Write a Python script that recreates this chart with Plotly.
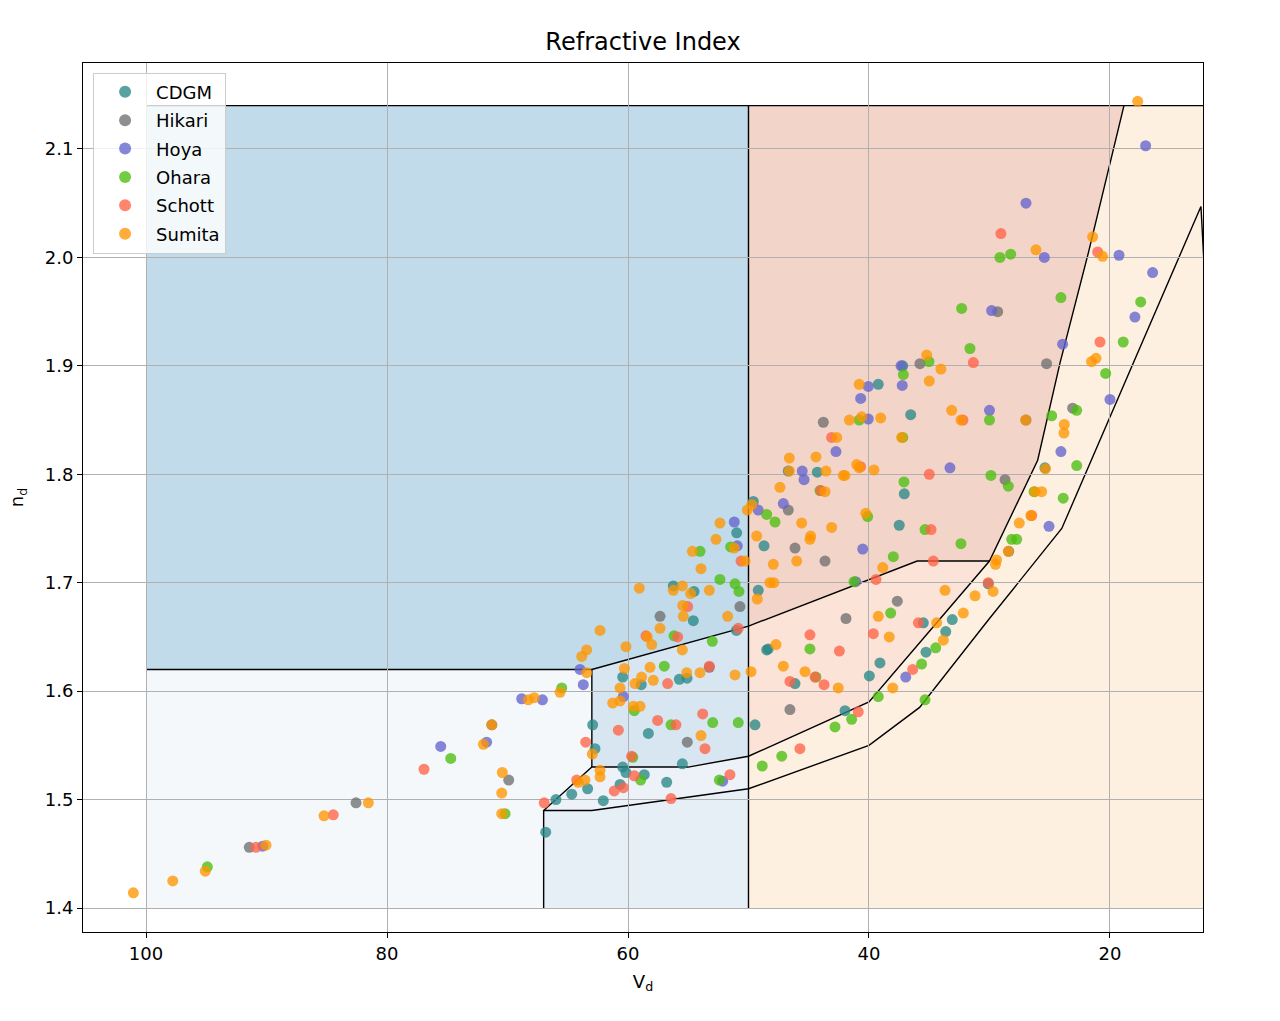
import plotly.graph_objects as go

# ---------------- data (Abbe diagram: vd, nd) ----------------
cdgm_vd = [48.49, 60.44, 58.9, 55.74, 55.1, 62.93, 58.31, 49.46, 62.74, 55.49, 60.44, 60.17, 58.65, 56.79,
           63.35, 64.67, 65.98, 62.05, 60.66, 66.83, 56.24, 54.52, 54.58, 51.0, 50.98, 49.19, 48.71, 33.09,
           35.49, 33.63, 35.27, 39.09, 39.97, 48.36, 46.14, 41.99, 37.2, 39.23, 36.54, 46.7, 44.29, 37.07,
           49.6, 37.49, 25.4, 30.1]
cdgm_nd = [1.638, 1.613, 1.606, 1.611, 1.612, 1.569, 1.561, 1.569, 1.547, 1.533, 1.530, 1.525, 1.523, 1.516,
           1.510, 1.505, 1.500, 1.499, 1.514, 1.470, 1.697, 1.692, 1.665, 1.656, 1.746, 1.693, 1.734, 1.666,
           1.663, 1.655, 1.636, 1.626, 1.614, 1.639, 1.607, 1.582, 1.900, 1.883, 1.855, 1.803, 1.802, 1.782,
           1.775, 1.753, 1.806, 1.699]

hikari_vd = [91.43, 82.57, 71.3, 69.9, 55.08, 57.34, 50.71, 46.14, 43.65, 37.65, 41.91, 46.56, 35.77, 43.79,
             46.7, 29.32, 25.26, 26.97, 23.1, 28.71, 28.4, 53.25]
hikari_nd = [1.456, 1.497, 1.569, 1.518, 1.553, 1.669, 1.678, 1.732, 1.720, 1.683, 1.667, 1.583, 1.902, 1.848,
             1.767, 1.950, 1.902, 1.850, 1.861, 1.795, 1.729, 1.622]

hoya_vd = [90.32, 75.54, 71.73, 68.82, 67.1, 63.98, 63.71, 60.39, 52.14, 51.18, 50.93, 40.52, 41.1, 36.95,
           37.34, 37.24, 40.06, 40.69, 40.06, 42.74, 45.54, 45.39, 33.28, 47.11, 49.19, 17.04, 26.97, 25.45,
           19.25, 16.46, 17.93, 29.82, 23.93, 20.0, 30.0, 24.07, 25.06]
hoya_nd = [1.457, 1.549, 1.553, 1.593, 1.592, 1.620, 1.606, 1.595, 1.517, 1.756, 1.734, 1.731, 1.701, 1.613,
           1.900, 1.882, 1.881, 1.870, 1.851, 1.821, 1.803, 1.795, 1.806, 1.773, 1.767, 2.103, 2.050, 2.000,
           2.002, 1.986, 1.945, 1.951, 1.920, 1.869, 1.859, 1.821, 1.752]

ohara_vd = [94.91, 74.71, 70.2, 65.5, 53.0, 56.99, 59.48, 56.43, 52.97, 50.85, 59.6, 58.95, 52.42, 48.86,
            56.18, 52.37, 51.12, 50.79, 54.02, 51.48, 32.37, 37.98, 41.24, 34.46, 35.63, 39.23, 35.35, 38.2,
            44.9, 44.4, 41.44, 42.82, 47.24, 35.02, 37.15, 40.81, 37.2, 37.1, 44.07, 48.49, 47.8, 40.11,
            35.35, 29.13, 28.24, 24.07, 17.45, 32.31, 31.62, 18.9, 20.36, 30.0, 24.84, 22.76, 22.76, 29.88,
            28.44, 26.3, 23.88, 28.16, 27.74]
ohara_nd = [1.438, 1.538, 1.487, 1.603, 1.646, 1.623, 1.582, 1.569, 1.571, 1.571, 1.539, 1.518, 1.518, 1.531,
            1.651, 1.703, 1.699, 1.692, 1.729, 1.733, 1.736, 1.724, 1.701, 1.640, 1.625, 1.595, 1.592, 1.672,
            1.639, 1.613, 1.574, 1.567, 1.540, 1.904, 1.892, 1.850, 1.834, 1.793, 1.785, 1.763, 1.756, 1.761,
            1.749, 2.000, 2.003, 1.963, 1.959, 1.953, 1.916, 1.922, 1.893, 1.850, 1.854, 1.859, 1.808, 1.799,
            1.789, 1.784, 1.778, 1.740, 1.740]

schott_vd = [90.87, 84.46, 76.93, 66.95, 64.26, 63.51, 60.8, 57.54, 56.02, 53.8, 53.61, 59.7, 59.48, 51.54,
             61.14, 60.39, 56.43, 56.71, 58.51, 55.88, 55.05, 50.85, 50.62, 34.66, 39.42, 35.9, 36.37, 44.9,
             42.46, 46.56, 44.48, 43.73, 40.89, 45.73, 43.1, 40.7, 35.0, 44.0, 34.85, 29.05, 21.02, 31.34,
             20.83, 32.2, 26.5, 30.1, 53.25, 39.64]
schott_nd = [1.456, 1.486, 1.528, 1.497, 1.518, 1.553, 1.564, 1.573, 1.569, 1.579, 1.547, 1.540, 1.522, 1.523,
             1.508, 1.511, 1.501, 1.607, 1.651, 1.650, 1.678, 1.658, 1.720, 1.720, 1.703, 1.663, 1.620, 1.652,
             1.637, 1.609, 1.613, 1.606, 1.581, 1.547, 1.834, 1.807, 1.800, 1.785, 1.749, 2.022, 2.005, 1.903,
             1.922, 1.850, 1.762, 1.700, 1.623, 1.653]

sumita_vd = [101.05, 97.78, 95.08, 90.04, 85.23, 81.55, 71.31, 72.0, 70.43, 70.48, 70.48, 68.27, 67.78, 65.64,
             63.43, 63.84, 63.43, 60.17, 58.03, 55.49, 60.3, 58.17, 55.13, 54.02, 51.12, 49.79, 59.42, 58.87,
             57.9, 60.66, 61.27, 60.66, 59.56, 59.0, 53.94, 62.96, 62.32, 62.32, 64.12, 63.57, 62.32, 59.06,
             57.34, 58.4, 56.24, 55.49, 54.8, 55.46, 55.41, 53.25, 51.73, 54.66, 53.94, 52.7, 52.37, 51.18,
             50.29, 49.73, 50.1, 49.32, 49.27, 44.9, 47.94, 46.0, 38.86, 48.22, 47.9, 33.69, 31.2, 32.17,
             34.38, 33.83, 38.03, 39.23, 38.32, 47.72, 47.11, 45.31, 42.55, 35.21, 34.03, 35.0, 40.81, 41.63,
             40.61, 39.03, 33.14, 42.68, 37.29, 46.61, 44.4, 46.61, 43.57, 42.13, 42.0, 41.02, 40.81, 39.59,
             47.39, 43.65, 45.59, 43.1, 44.84, 40.27, 17.7, 26.14, 21.44, 20.61, 21.53, 21.16, 32.37, 27.0,
             23.79, 23.82, 25.35, 26.22, 25.67, 26.56, 27.53, 28.44, 29.41, 29.5, 29.7]
sumita_nd = [1.414, 1.425, 1.434, 1.458, 1.485, 1.497, 1.569, 1.551, 1.525, 1.506, 1.487, 1.592, 1.594, 1.599,
             1.617, 1.632, 1.638, 1.641, 1.643, 1.638, 1.621, 1.622, 1.617, 1.617, 1.615, 1.618, 1.607, 1.613,
             1.610, 1.603, 1.589, 1.591, 1.586, 1.586, 1.559, 1.542, 1.527, 1.521, 1.516, 1.518, 1.656, 1.695,
             1.658, 1.650, 1.693, 1.697, 1.690, 1.679, 1.669, 1.693, 1.669, 1.729, 1.713, 1.740, 1.755, 1.732,
             1.720, 1.772, 1.767, 1.743, 1.685, 1.740, 1.717, 1.720, 1.714, 1.700, 1.700, 1.693, 1.688, 1.672,
             1.663, 1.647, 1.603, 1.669, 1.650, 1.643, 1.623, 1.618, 1.603, 1.910, 1.897, 1.886, 1.883, 1.850,
             1.853, 1.852, 1.859, 1.834, 1.834, 1.815, 1.816, 1.803, 1.803, 1.799, 1.799, 1.809, 1.806, 1.804,
             1.788, 1.784, 1.755, 1.751, 1.743, 1.764, 2.144, 2.007, 2.019, 2.001, 1.904, 1.907, 1.850, 1.850,
             1.846, 1.838, 1.805, 1.784, 1.784, 1.762, 1.755, 1.729, 1.721, 1.717, 1.692]

manufacturers = ["CDGM", "Hikari", "Hoya", "Ohara", "Schott", "Sumita"]
series_vd = [cdgm_vd, hikari_vd, hoya_vd, ohara_vd, schott_vd, sumita_vd]
series_nd = [cdgm_nd, hikari_nd, hoya_nd, ohara_nd, schott_nd, sumita_nd]
colors = ["#2a8888", "#707070", "#6464cd", "#4cbe10", "#ff6347", "#ff9600"]

# glass-map regions (vd, nd vertices)
region_cream = [(50, 1.4), (50, 2.14), (5, 2.14), (5, 1.4)]
region_flint = [(50, 2.14), (18.84, 2.14), (21.8, 2.004), (24.15, 1.9025), (26, 1.813), (30, 1.72), (36, 1.72), (50, 1.66)]
region_flint_light = [(50, 1.66), (36, 1.72), (30, 1.72), (40, 1.59), (50, 1.54)]
region_blue = [(100, 1.62), (100, 2.14), (50, 2.14), (50, 1.66), (63, 1.62)]
region_b = [(63, 1.62), (50, 1.66), (50, 1.54), (55, 1.53), (63, 1.53)]
region_c = [(67, 1.49), (63, 1.53), (55, 1.53), (50, 1.54), (50, 1.51), (63, 1.49)]
region_d = [(67, 1.4), (67, 1.49), (63, 1.49), (50, 1.51), (50, 1.4)]
region_e = [(100, 1.4), (100, 1.62), (63, 1.62), (63, 1.53), (67, 1.49), (67, 1.4)]
regions = [region_cream, region_flint, region_flint_light, region_blue, region_b, region_c, region_d, region_e]
region_colors = ["#fdf0e1", "#f3d4c8", "#fbe3d7", "#c1dbea", "#d8e6f1", "#ecf2f8", "#e6eef6", "#f5f8fb"]

outline_top = [(100, 2.14), (5, 2.14)]
outline_x50 = [(50, 1.4), (50, 2.14)]
outline_crown = [(100, 1.62), (63, 1.62), (50, 1.66), (36, 1.72), (30, 1.72)]
outline_flint = [(18.84, 2.14), (21.8, 2.004), (24.15, 1.9025), (26, 1.813), (30, 1.72), (40, 1.59), (50, 1.54),
                 (55, 1.53), (63, 1.53), (67, 1.49), (67, 1.4)]
outline_lower = [(67, 1.49), (63, 1.49), (50, 1.51), (40, 1.55), (35.8, 1.585), (30, 1.667), (24, 1.75),
                 (12.45, 2.047), (11.5, 1.85)]
outline_v63 = [(63, 1.62), (63, 1.53)]
outlines = [outline_top, outline_x50, outline_crown, outline_flint, outline_lower, outline_v63]

x_ticks = [100, 80, 60, 40, 20]
y_ticks = [1.4, 1.5, 1.6, 1.7, 1.8, 1.9, 2.0, 2.1]


def to_path(pts, close):
    s = "M " + " L ".join(f"{x},{y}" for x, y in pts)
    return s + (" Z" if close else "")


fig = go.Figure()

shapes = []
for pts, col in zip(regions, region_colors):
    shapes.append(dict(type="path", path=to_path(pts, True), xref="x", yref="y",
                       fillcolor=col, line=dict(width=0), layer="below"))
for pts in outlines:
    shapes.append(dict(type="path", path=to_path(pts, False), xref="x", yref="y",
                       fillcolor="rgba(0,0,0,0)", line=dict(color="black", width=1.4), layer="below"))

for name, vd, nd, col in zip(manufacturers, series_vd, series_nd, colors):
    fig.add_trace(go.Scatter(x=vd, y=nd, mode="markers", name=name, legendgroup=name,
                             marker=dict(color=col, size=11, opacity=0.78, line=dict(width=0))))

FONT = "DejaVu Sans"
fig.update_layout(
    width=1280, height=1021,
    margin=dict(l=83, r=77, t=63, b=89),
    paper_bgcolor="white", plot_bgcolor="white",
    shapes=shapes,
    font=dict(family=FONT, size=18, color="black"),
    title=dict(text="Refractive Index", x=0.5, xref="paper", xanchor="center",
               y=1 - 42 / 1021, yref="container", yanchor="middle",
               font=dict(family=FONT, size=24, color="black")),
    legend=dict(x=0.009, y=0.989, xanchor="left", yanchor="top",
                bgcolor="rgba(255,255,255,0.8)", bordercolor="#cccccc", borderwidth=1,
                font=dict(family=FONT, size=18), tracegroupgap=2, itemsizing="constant",
                itemwidth=52),
    showlegend=True,
)
fig.update_xaxes(range=[105.23, 12.28], autorange=False, tickvals=x_ticks,
                 ticktext=[str(v) for v in x_ticks],
                 showgrid=True, gridcolor="#b0b0b0", gridwidth=1,
                 showline=True, linecolor="black", linewidth=1, mirror=True,
                 ticks="outside", ticklen=5, tickcolor="black",
                 zeroline=False, tickfont=dict(size=18),
                 title=dict(text="V<sub>d</sub>", font=dict(size=18), standoff=12))
fig.update_yaxes(range=[1.3779, 2.1793], autorange=False, tickvals=y_ticks,
                 ticktext=[f"{v:.1f}" for v in y_ticks],
                 showgrid=True, gridcolor="#b0b0b0", gridwidth=1,
                 showline=True, linecolor="black", linewidth=1, mirror=True,
                 ticks="outside", ticklen=5, tickcolor="black",
                 zeroline=False, tickfont=dict(size=18),
                 title=dict(text="n<sub>d</sub>", font=dict(size=18), standoff=16))

fig.write_html("out.html")
